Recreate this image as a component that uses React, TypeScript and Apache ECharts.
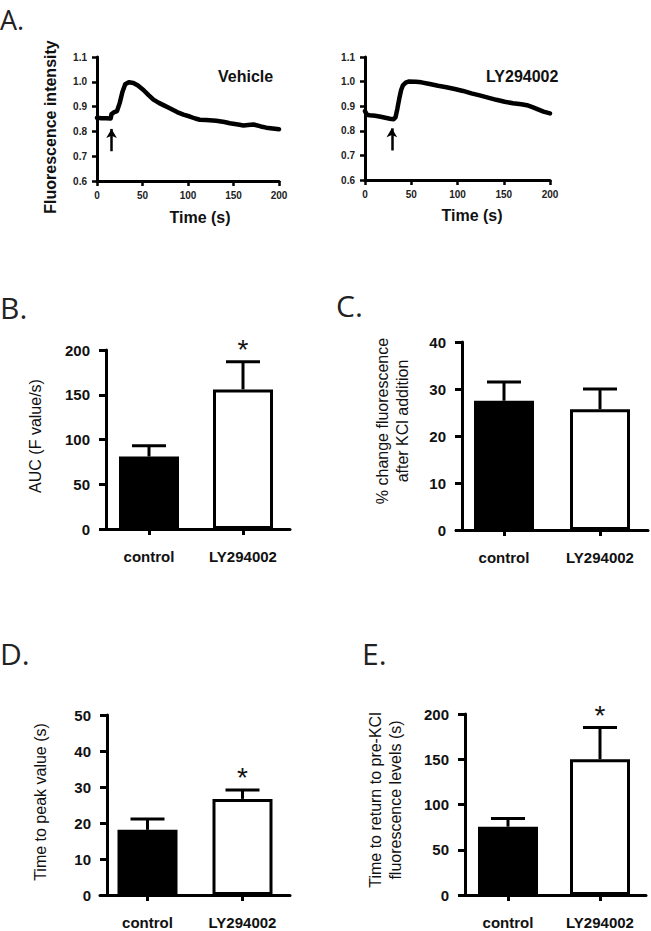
import React, { useEffect, useRef } from 'react';
import * as echarts from 'echarts';

const FONT = '"Liberation Sans", Arial, sans-serif';
const LETTER_FONT = '"Open Sans", "Noto Sans", sans-serif';

// Panel A traces (time s, fluorescence intensity)
const vehicleTrace: [number, number][] = [
  [0, 0.855], [5, 0.853], [10, 0.853], [15, 0.852], [16, 0.87], [19, 0.878], [22, 0.882],
  [25, 0.915], [28, 0.96], [31, 0.99], [35, 0.998], [40, 0.995], [45, 0.985], [51, 0.967],
  [57, 0.945], [62, 0.928], [68, 0.915], [73, 0.906], [80, 0.893], [88, 0.878], [95, 0.868],
  [102, 0.86], [108, 0.852], [113, 0.847], [120, 0.846], [131, 0.843], [140, 0.838],
  [146, 0.833], [155, 0.828], [161, 0.824], [166, 0.826], [172, 0.828], [180, 0.82],
  [186, 0.815], [193, 0.812], [200, 0.809],
];
const lyTrace: [number, number][] = [
  [0, 0.88], [2, 0.865], [5, 0.863], [11, 0.861], [17, 0.857], [22, 0.853], [27, 0.849],
  [31, 0.847], [33, 0.855], [35, 0.89], [37, 0.93], [39, 0.965], [41, 0.985], [44, 0.996],
  [47, 1.0], [55, 0.999], [61, 0.997], [70, 0.99], [79, 0.983], [88, 0.977], [97, 0.97],
  [106, 0.962], [115, 0.952], [124, 0.944], [133, 0.935], [142, 0.926], [151, 0.918],
  [160, 0.912], [169, 0.908], [175, 0.904], [181, 0.896], [187, 0.887], [193, 0.878],
  [200, 0.871],
];
const arrowTimes = [16, 29];
const arrowY = [0.72, 0.81];
const traceNames = ['Vehicle', 'LY294002'];

// Bar panels
const groups = ['control', 'LY294002'];
const aucMean = [81, 156];
const aucSem = [12, 31];
const aucSig = ['', '*'];
const pctMean = [27.5, 25.7];
const pctSem = [4.0, 4.3];
const pctSig = ['', ''];
const peakMean = [18.1, 26.7];
const peakSem = [3.0, 2.5];
const peakSig = ['', '*'];
const returnMean = [75.5, 150];
const returnSem = [9, 35];
const returnSig = ['', '*'];

const barPanels = [
  { grid: { left: 102, top: 350, width: 188, height: 179 }, max: 200, interval: 50, offset: -4, mean: aucMean, sem: aucSem, sig: aucSig },
  { grid: { left: 456, top: 342, width: 192, height: 188 }, max: 40, interval: 10, offset: -6, mean: pctMean, sem: pctSem, sig: pctSig },
  { grid: { left: 100, top: 715, width: 190, height: 180 }, max: 50, interval: 10, offset: -7, mean: peakMean, sem: peakSem, sig: peakSig },
  { grid: { left: 462, top: 714, width: 184, height: 181 }, max: 200, interval: 50, offset: -3, mean: returnMean, sem: returnSem, sig: returnSig },
];

const AX = '#000';

function buildOption() {
  const grids: any[] = [];
  const xAxes: any[] = [];
  const yAxes: any[] = [];
  const series: any[] = [];

  // Panel A grids
  const aGrids = [
    { left: 97, top: 57, width: 182, height: 124 },
    { left: 365, top: 57, width: 185, height: 123 },
  ];
  const traces = [vehicleTrace, lyTrace];
  aGrids.forEach((g, i) => {
    grids.push({ ...g, outerBoundsMode: 'none' });
    xAxes.push({
      type: 'value', gridIndex: i, min: 0, max: 200, interval: 50,
      axisLine: { show: true, onZero: false, lineStyle: { color: AX, width: 3 } },
      axisTick: { show: true, length: 5, lineStyle: { color: AX, width: 2.5 } },
      splitLine: { show: false },
      axisLabel: { color: '#222', fontFamily: FONT, fontWeight: 'bold', fontSize: 10, margin: 9 },
    });
    yAxes.push({
      type: 'value', gridIndex: i, min: 0.6, max: 1.1, interval: 0.1,
      axisLine: { show: true, onZero: false, lineStyle: { color: AX, width: 3 } },
      axisTick: { show: true, length: 5, lineStyle: { color: AX, width: 2.5 } },
      splitLine: { show: false },
      axisLabel: { color: '#222', fontFamily: FONT, fontWeight: 'bold', fontSize: 10, margin: 10, formatter: (v: number) => v.toFixed(1) },
    });
    series.push({
      type: 'line', xAxisIndex: i, yAxisIndex: i, data: traces[i], showSymbol: false, symbol: 'none',
      lineStyle: { color: '#000', width: 4.5, join: 'round', cap: 'round' },
      markLine: {
        silent: true, symbol: ['none', 'arrow'], symbolSize: [8, 9], label: { show: false },
        lineStyle: { color: '#000', width: 2.5, type: 'solid' },
        data: [[{ coord: [arrowTimes[i], arrowY[0]] }, { coord: [arrowTimes[i], arrowY[1]] }]],
      },
    });
  });

  barPanels.forEach((p, k) => {
    const idx = k + 2;
    grids.push({ ...p.grid, outerBoundsMode: 'none' });
    xAxes.push({
      type: 'category', gridIndex: idx, data: groups,
      axisLine: { show: true, lineStyle: { color: AX, width: 3 } },
      axisTick: { show: true, alignWithLabel: true, length: 6, lineStyle: { color: AX, width: 3 } },
      axisLabel: { color: '#111', fontFamily: FONT, fontWeight: 'bold', fontSize: 15, margin: 20 },
    });
    yAxes.push({
      type: 'value', gridIndex: idx, min: 0, max: p.max, interval: p.interval, offset: p.offset,
      axisLine: { show: true, lineStyle: { color: AX, width: 3 } },
      axisTick: { show: true, length: 7, lineStyle: { color: AX, width: 3 } },
      splitLine: { show: false },
      axisLabel: { color: '#111', fontFamily: FONT, fontWeight: 'bold', fontSize: 15, margin: 16 },
    });
    series.push({
      type: 'bar', xAxisIndex: idx, yAxisIndex: idx, barWidth: 60, z: 2,
      data: p.mean.map((v, j) => ({
        value: v,
        itemStyle: { color: j === 0 ? '#000' : '#fff', borderColor: '#000', borderWidth: 3 },
      })),
    });
    series.push({
      type: 'custom', xAxisIndex: idx, yAxisIndex: idx, z: 3,
      data: p.mean.map((v, j) => [j, v, v + p.sem[j], p.sig[j] ? 1 : 0]),
      renderItem: (params: any, api: any) => {
        const x = api.value(0);
        const m = api.value(1);
        const hi = api.value(2);
        const s = api.value(3);
        const p0 = api.coord([x, m]);
        const p1 = api.coord([x, hi]);
        const half = 17;
        const children: any[] = [
          { type: 'line', shape: { x1: p0[0], y1: p0[1], x2: p1[0], y2: p1[1] }, style: { stroke: '#000', lineWidth: 3 } },
          { type: 'line', shape: { x1: p1[0] - half, y1: p1[1], x2: p1[0] + half, y2: p1[1] }, style: { stroke: '#000', lineWidth: 3 } },
        ];
        if (s) {
          children.push({
            type: 'text',
            style: { text: '*', x: p1[0], y: p1[1] - 12, fill: '#111', fontSize: 28, fontFamily: FONT, align: 'center', verticalAlign: 'middle' },
          });
        }
        return { type: 'group', children };
      },
    });
  });

  const txt = (text: string, x: number, y: number, o: any = {}) => ({
    type: 'text', x, y, rotation: o.rot ? Math.PI / 2 : 0, silent: true,
    style: {
      text, fill: o.fill || '#111',
      font: `${o.weight || 'normal'} ${o.size || 16}px ${o.family || FONT}`,
      textAlign: o.align || 'center', textVerticalAlign: 'middle', lineHeight: o.lh || 20,
    },
  });

  const graphic = [
    txt('A.', 0, 19, { size: 27, family: LETTER_FONT, align: 'left', fill: '#222' }),
    txt('B.', 0, 307, { size: 30, family: LETTER_FONT, align: 'left', fill: '#222' }),
    txt('C.', 336, 305, { size: 30, family: LETTER_FONT, align: 'left', fill: '#222' }),
    txt('D.', 0, 653, { size: 30, family: LETTER_FONT, align: 'left', fill: '#222' }),
    txt('E.', 362, 653, { size: 30, family: LETTER_FONT, align: 'left', fill: '#222' }),
    txt('Fluorescence intensity', 50, 127, { rot: true, weight: 'bold', size: 16 }),
    txt('Time (s)', 200, 217, { weight: 'bold', size: 16 }),
    txt('Time (s)', 472, 215, { weight: 'bold', size: 16 }),
    txt(traceNames[0], 218, 76, { weight: 'bold', size: 16, align: 'left' }),
    txt(traceNames[1], 486, 76, { weight: 'bold', size: 16, align: 'left' }),
    txt('AUC (F value/s)', 35, 436, { rot: true, size: 16 }),
    txt('% change fluorescence\nafter KCl addition', 392, 421, { rot: true, size: 16 }),
    txt('Time to peak value (s)', 40, 802, { rot: true, size: 16 }),
    txt('Time to return to pre-KCl\nfluorescence levels (s)', 385, 800, { rot: true, size: 16 }),
  ];

  return {
    animation: false,
    backgroundColor: '#fff',
    grid: grids,
    xAxis: xAxes,
    yAxis: yAxes,
    series,
    graphic,
  };
}

export default function App() {
  const ref = useRef<HTMLDivElement>(null);
  useEffect(() => {
    if (!ref.current) return;
    const chart = echarts.init(ref.current, undefined, { renderer: 'svg' });
    chart.setOption(buildOption() as any);
    return () => chart.dispose();
  }, []);
  return (
    <div
      ref={ref}
      style={{ position: 'absolute', left: 0, top: 0, width: 651, height: 931, background: '#fff' }}
    />
  );
}
